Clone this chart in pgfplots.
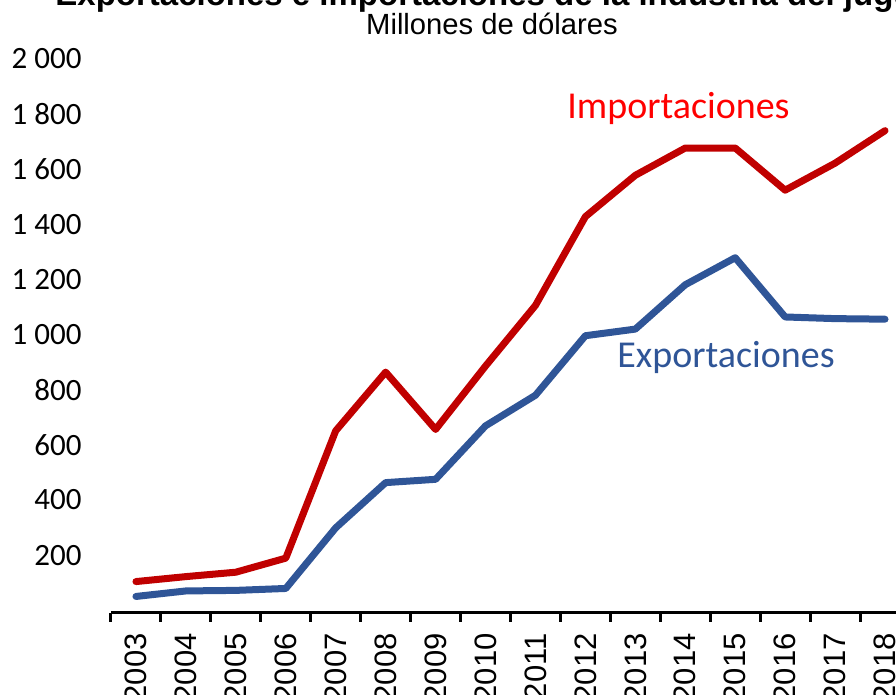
\documentclass[border=0pt]{standalone}
\usepackage{fontspec}
\setmainfont{Liberation Sans}
\newfontfamily\carlito{Carlito}
\usepackage{pgfplots}
\pgfplotsset{compat=1.18}
\definecolor{impred}{HTML}{C00000}
\definecolor{expblue}{HTML}{2F5597}
\definecolor{labred}{HTML}{FF0000}
\begin{document}
\begin{tikzpicture}
\path[use as bounding box] (-55.5pt,-41pt) rectangle (392.5pt,306.5pt);
\clip (-55.5pt,-41pt) rectangle (392.5pt,306.5pt);
\begin{axis}[
  at={(0pt,0pt)}, anchor=south west,
  scale only axis, width=399.5pt, height=277pt,
  xmin=-0.5, xmax=15.5, ymin=-10, ymax=2000,
  axis x line*=bottom, axis y line*=left,
  y axis line style={draw=none},
  x axis line style={line width=1.5pt, -},
  xtick={0,...,15},
  xticklabels={2003,2004,2005,2006,2007,2008,2009,2010,2011,2012,2013,2014,2015,2016,2017,2018},
  minor xtick={-0.5,0.5,...,15.5},
  major tick length=0pt,
  minor tick length=4.5pt,
  tick align=outside,
  major x tick style={draw=none},
  minor x tick style={line width=1.5pt, black},
  ytick={200,400,...,2000},
  yticklabels={200,400,600,800,1 000,1 200,1 400,1 600,1 800,2 000},
  ytick style={draw=none},
  yticklabel style={font=\carlito\fontsize{15.5}{18}\selectfont, anchor=east, inner sep=0pt, xshift=-14.5pt},
  xticklabel shift=10pt,
  xticklabel style={font=\fontsize{15.5}{18}\selectfont, rotate=90, anchor=east, inner sep=0pt},
]
\addplot[impred, line width=3.5pt, line join=round, line cap=round] coordinates {(0,104)(1,122)(2,138)(3,189)(4,651)(5,864)(6,656)(7,886)(8,1106)(9,1428)(10,1578)(11,1677)(12,1677)(13,1524)(14,1622)(15,1740)};
\addplot[expblue, line width=3.5pt, line join=round, line cap=round] coordinates {(0,50)(1,70)(2,72)(3,79)(4,299)(5,463)(6,475)(7,669)(8,780)(9,996)(10,1020)(11,1181)(12,1279)(13,1064)(14,1058)(15,1056)};
\end{axis}
\node[anchor=base west, inner sep=0pt, font=\bfseries\fontsize{16.5}{20}\selectfont] at (-28pt,303.5pt) {Exportaciones e importaciones de la industria del juguete};
\node[anchor=base, inner sep=0pt, font=\fontsize{14.6}{17}\selectfont] at (190.5pt,289pt) {Millones de dólares};
\node[anchor=base west, inner sep=0pt, text=labred, font=\carlito\fontsize{19}{23}\selectfont] at (228pt,247pt) {Importaciones};
\node[anchor=base west, inner sep=0pt, text=expblue, font=\carlito\fontsize{19}{23}\selectfont] at (253pt,122.5pt) {Exportaciones};
\end{tikzpicture}
\end{document}
